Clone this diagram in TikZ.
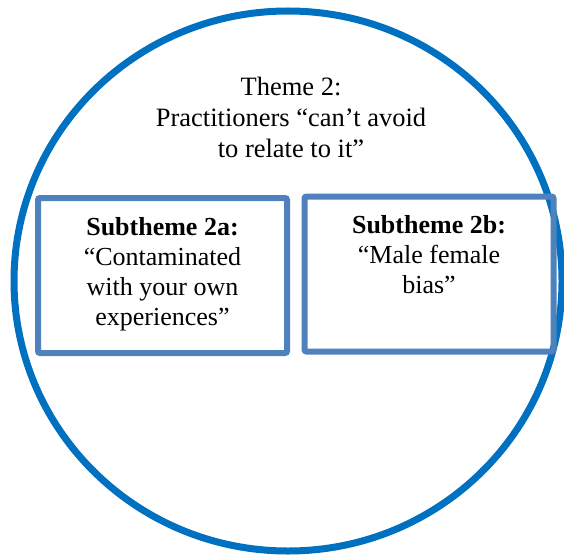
\documentclass[tikz,border=0pt]{standalone}
\usepackage{fontspec}
\setmainfont{Liberation Serif}
\usetikzlibrary{positioning}
\definecolor{themeBlue}{HTML}{0070C0}
\definecolor{subBlue}{HTML}{4F81BD}
\tikzset{
  subbox/.style={rectangle, rounded corners=2pt, draw=subBlue, line width=6pt,
                 minimum width=249pt, minimum height=155pt, inner sep=0pt},
  subtext/.style={align=center, font={\fontsize{26}{30}\selectfont}},
%  titletext/.style={align=center, font=\large},
  titletext/.style={align=center, font={\fontsize{26.5}{31}\selectfont}}
}
\begin{document}
\begin{tikzpicture}[x=1pt, y=-1pt]
  \useasboundingbox (0,0) rectangle (564,556);
  \draw [themeBlue, line width=7pt] (288,281) ellipse [x radius=274pt, y radius=270pt];
  \node [titletext] (title) at (291,117) {Theme 2:\\Practitioners “can’t avoid\\to relate to it”};
  \node [subbox] (subA) at (162.5,275.5) {};
  \node [subbox] (subB) at (429,274) {};
  \node [subtext, below=19pt of subA.north] (subAtext)
    {\textbf{Subtheme 2a:}\\“Contaminated\\with your own\\experiences”};
  \node [subtext, below=18pt of subB.north] (subBtext)
    {\textbf{Subtheme 2b:}\\“Male female\\bias”};
\end{tikzpicture}
\end{document}
